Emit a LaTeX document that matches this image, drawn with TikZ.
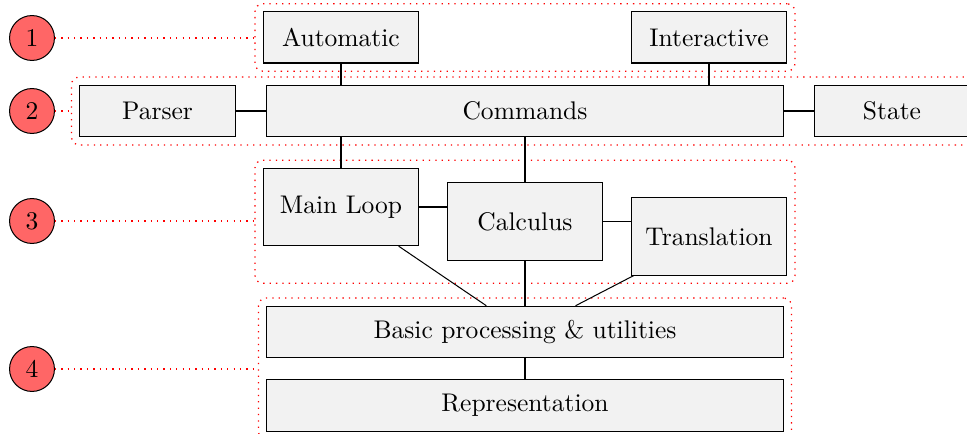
\documentclass[tikz,border=0pt]{standalone}
\usepackage{amsmath, amssymb}
\usetikzlibrary{fit}

\begin{document}
\begin{tikzpicture}[x=0.392pt, y=-0.392pt,
	box/.style={draw, fill=gray!10, inner sep=0pt, line width=0.4pt},
	small/.style={box, minimum width=61pt, minimum height=20pt},
	wide/.style={box, minimum width=202.5pt, minimum height=20.2pt},
	tall/.style={box, minimum width=61pt, minimum height=30.3pt},
	layer/.style={draw=red, dotted, rounded corners=3pt, inner sep=3pt, line width=0.5pt},
	num/.style={circle, draw, fill=red!60, minimum size=17.6pt, inner sep=0pt},
	link/.style={draw=red, dotted, line width=0.5pt}]
	\useasboundingbox (0,0) rectangle (967,434);
	\node[small] (auto) at (341,37.5) {Automatic};
	\node[small] (inter) at (709,37.5) {Interactive};
	\node[small] (parser) at (157.5,111) {Parser};
	\node[wide] (cmds) at (525,111) {Commands};
	\node[small] (state) at (892,111) {State};
	\node[tall] (mainloop) at (341,207) {Main Loop};
	\node[tall] (calc) at (525,221.5) {Calculus};
	\node[tall] (transl) at (709,236.5) {Translation};
	\node[wide] (basic) at (525,332) {Basic processing \& utilities};
	\node[wide] (repr) at (525,405.5) {Representation};

	\node[layer, fit=(auto) (inter)] (f1) {};
	\node[layer, fit=(parser) (cmds) (state)] (f2) {};
	\node[layer, fit=(mainloop) (calc) (transl)] (f3) {};
	\node[layer, fit=(basic) (repr)] (f4) {};

	\draw (auto.south) -- (auto.south |- cmds.north);
	\draw (inter.south) -- (inter.south |- cmds.north);
	\draw (parser) -- (cmds);
	\draw (cmds) -- (state);
	\draw (mainloop.north |- cmds.south) -- (mainloop.north);
	\draw (cmds.south) -- (calc.north);
	\draw (mainloop.east) -- (mainloop.east -| calc.west);
	\draw (calc.east) -- (calc.east -| transl.west);
	\draw (mainloop) -- (basic);
	\draw (calc) -- (basic);
	\draw (transl) -- (basic);
	\draw (basic) -- (repr);

	\foreach \i/\y in {1/38,2/111,3/221,4/369} {
		\node[num] (n\i) at (32,\y) {\i};
		\draw[link] (n\i) -- (n\i -| f\i.west);
	}
\end{tikzpicture}
\end{document}
